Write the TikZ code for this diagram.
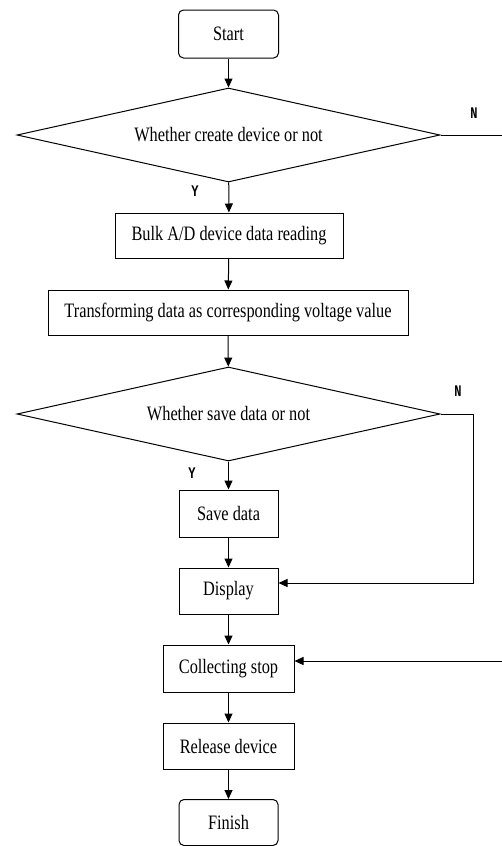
\documentclass[tikz,border=0pt]{standalone}
\usepackage{fontspec}
\setmainfont{Liberation Serif}
\newfontfamily\ynfont{Liberation Mono}
\usetikzlibrary{arrows.meta,shapes.geometric}
\newcommand{\tx}[1]{\scalebox{1.02}[1.28]{#1}}
\newcommand{\yn}[1]{\scalebox{1}[1.35]{\ynfont\bfseries\fontsize{12}{13}\selectfont #1}}
\begin{document}
\begin{tikzpicture}[x=1pt,y=-1pt,
  line width=1pt,
  every node/.style={font=\fontsize{16}{19}\selectfont},
  box/.style={draw, rectangle, inner sep=0pt, minimum width=#1},
  box/.default=99pt,
  term/.style={draw, rectangle, rounded corners=5pt, inner sep=0pt, minimum width=99pt, minimum height=46pt},
  dec/.style={draw, diamond, inner sep=0pt, minimum width=423pt, minimum height=94pt, aspect=4.5},
  arr/.style={-{Triangle[length=9pt,width=8pt]}},
  lbl/.style={inner sep=0pt}]
\useasboundingbox (0,0) rectangle (502,846);

\node[term, minimum width=100pt, minimum height=48pt] (start) at (228.5,34) {\tx{Start}};
\node[dec] (d1) at (228.5,135) {\tx{Whether create device or not}};
\node[box=228pt, minimum height=45pt] (bulk) at (229,235.5) {\tx{Bulk A/D device data reading}};
\node[box=360pt, minimum height=45pt] (trans) at (228,312.5) {\tx{Transforming data as corresponding voltage value}};
\node[dec] (d2) at (228.5,414) {\tx{Whether save data or not}};
\node[box, minimum height=47pt] (save) at (228.5,513.5) {\tx{Save data}};
\node[box, minimum height=46pt] (disp) at (228.5,591) {\tx{Display}};
\node[box=131pt, minimum height=47pt] (coll) at (228.5,668.5) {\tx{Collecting stop}};
\node[box=131pt, minimum height=46pt] (rel) at (228.5,746) {\tx{Release device}};
\node[term] (fin) at (228.5,822.5) {\tx{Finish}};

\node[lbl] (n1) at (474,113) {\yn{N}};
\node[lbl] (y1) at (195,191) {\yn{Y}};
\node[lbl] (n2) at (458,391) {\yn{N}};
\node[lbl] (y2) at (192,473) {\yn{Y}};

\coordinate (r1) at (510,135);
\coordinate (r2) at (510,661);
\coordinate (q1) at (473,414);
\coordinate (q2) at (473,583);

\draw[arr] (start) -- (d1);
\draw[arr] (d1) -- (bulk);
\draw[arr] (bulk) -- (trans);
\draw[arr] (trans) -- (d2);
\draw[arr] (d2) -- (save);
\draw[arr] (save) -- (disp);
\draw[arr] (disp) -- (coll);
\draw[arr] (coll) -- (rel);
\draw[arr] (rel) -- (fin);
\draw[arr] (d1.east) -- (r1) -- (r2) -- (coll.east |- r2);
\draw[arr] (d2.east) -- (q1) -- (q2) -- (disp.east |- q2);
\end{tikzpicture}
\end{document}
